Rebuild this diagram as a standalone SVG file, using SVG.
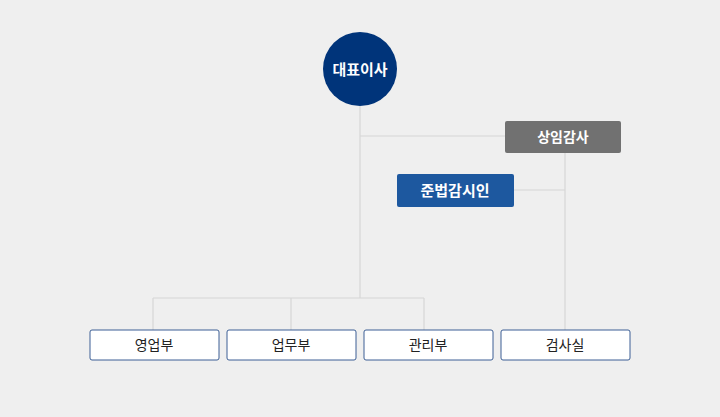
<svg xmlns="http://www.w3.org/2000/svg" width="720" height="417" viewBox="0 0 720 417">
<style>
.ln{stroke:#d6d6d6;stroke-width:1.2;fill:none}
.bx{fill:#fff;stroke:#3d5f95;stroke-width:1}
.t{font-family:"Noto Sans CJK KR","Noto Sans",sans-serif;font-size:14px;text-anchor:middle;fill:#222}
.w{fill:#fff;font-weight:bold;font-size:15px}
</style>
<rect width="720" height="417" fill="#efefef"/>
<g id="connectors">
<path class="ln" d="M360 106V298M360 136H505M514 190H565M565 153V330M153 298H424M153 298V330M291 298V330M424 298V330"/>
</g>
<g id="ceo"><circle cx="360" cy="69" r="37" fill="#00347a"/><text class="t w" x="360" y="75">대표이사</text></g>
<g id="auditor"><rect x="505" y="121" width="116" height="32" rx="2" fill="#717171"/><text class="t w" x="563" y="142" style="font-size:14px">상임감사</text></g>
<g id="compliance"><rect x="397" y="174" width="117" height="33" rx="2" fill="#1d589f"/><text class="t w" x="455" y="196">준법감시인</text></g>
<g id="sales"><rect class="bx" x="90" y="330" width="129" height="30" rx="2"/><text class="t" x="154" y="350">영업부</text></g>
<g id="ops"><rect class="bx" x="227" y="330" width="129" height="30" rx="2"/><text class="t" x="291" y="350">업무부</text></g>
<g id="admin"><rect class="bx" x="364" y="330" width="129" height="30" rx="2"/><text class="t" x="428" y="350">관리부</text></g>
<g id="inspect"><rect class="bx" x="501" y="330" width="129" height="30" rx="2"/><text class="t" x="565" y="350">검사실</text></g>
</svg>
